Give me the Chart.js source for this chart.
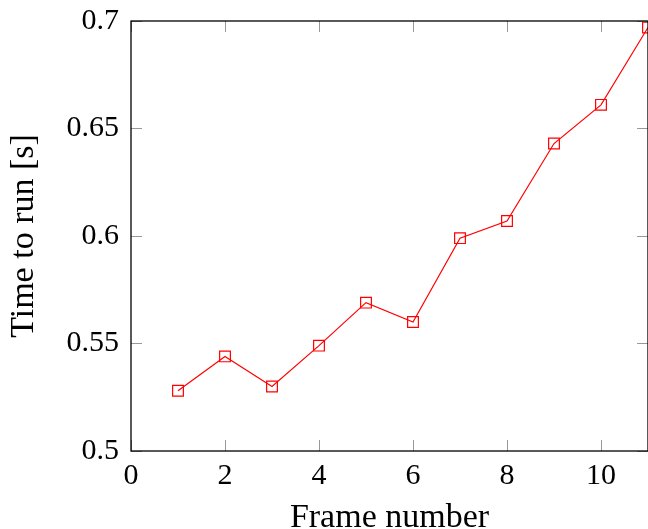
<!DOCTYPE html>
<html>
<head>
<meta charset="utf-8">
<script src="https://cdn.jsdelivr.net/npm/chart.js@4/dist/chart.umd.min.js"></script>
<style>
  html, body { margin: 0; padding: 0; background: #fff; overflow: hidden; }
  #wrap { width: 648px; height: 529px; }
</style>
</head>
<body>
<div id="wrap"><canvas id="chart" width="648" height="529"></canvas></div>
<script>
// Data
const frames = [1, 2, 3, 4, 5, 6, 7, 8, 9, 10, 11];
const runTimes = [0.528, 0.544, 0.530, 0.549, 0.569, 0.560, 0.599, 0.607, 0.643, 0.661, 0.697];
const xTicks = [0, 2, 4, 6, 8, 10];
const yTicks = [0.5, 0.55, 0.6, 0.65, 0.7];

const FONT = "'Liberation Serif', 'Times New Roman', serif";

// drop the extra room chart.js keeps for overflowing tick labels
function noPadding(s) {
    s.paddingTop = 0;
    s.paddingBottom = 0;
    s.paddingLeft = 0;
    s.paddingRight = 0;
}

// pgfplots style frame with inward ticks on all four sides
const framePlugin = {
    id: 'frame',
    afterDatasetsDraw(chart) {
        const ctx = chart.ctx;
        const a = chart.chartArea;
        const xs = chart.scales.x, ys = chart.scales.y;
        const len = 11;
        ctx.save();
        ctx.strokeStyle = '#999';
        ctx.lineWidth = 1;
        ctx.beginPath();
        xTicks.forEach(v => {
            const px = Math.round(xs.getPixelForValue(v)) + 0.5;
            ctx.moveTo(px, a.bottom); ctx.lineTo(px, a.bottom - len);
            ctx.moveTo(px, a.top); ctx.lineTo(px, a.top + len);
        });
        yTicks.forEach(v => {
            const py = Math.round(ys.getPixelForValue(v)) + 0.5;
            ctx.moveTo(a.left, py); ctx.lineTo(a.left + len, py);
            ctx.moveTo(a.right, py); ctx.lineTo(a.right - len, py);
        });
        ctx.stroke();
        ctx.strokeStyle = '#000';
        ctx.lineWidth = 1.3;
        ctx.strokeRect(a.left, a.top, a.right - a.left, a.bottom - a.top);
        ctx.restore();
    }
};

new Chart(document.getElementById('chart'), {
    type: 'line',
    data: {
        datasets: [{
            data: frames.map((f, i) => ({ x: f, y: runTimes[i] })),
            borderColor: '#ff0000',
            borderWidth: 1.2,
            pointStyle: 'rect',
            pointRadius: 7.6,
            pointBorderWidth: 1.2,
            pointBorderColor: '#ff0000',
            pointBackgroundColor: 'rgba(0,0,0,0)',
            tension: 0,
            clip: false
        }]
    },
    options: {
        responsive: false,
        animation: false,
        layout: { autoPadding: false, padding: { top: 21, right: 0, left: 0, bottom: 0 } },
        plugins: { legend: { display: false }, tooltip: { enabled: false } },
        scales: {
            x: {
                type: 'linear',
                min: 0,
                max: 11,
                afterFit(s) { s.height = 78; noPadding(s); },
                afterBuildTicks(s) { s.ticks = xTicks.map(v => ({ value: v })); },
                grid: { display: false, drawTicks: false },
                border: { display: false },
                ticks: {
                    color: '#000',
                    padding: 7,
                    font: { family: FONT, size: 30 },
                    callback: v => String(v)
                },
                title: {
                    display: true,
                    text: 'Frame number',
                    color: '#000',
                    font: { family: FONT, size: 34 },
                    padding: { top: 12, bottom: -9 }
                }
            },
            y: {
                min: 0.5,
                max: 0.7,
                afterFit(s) { s.width = 131; noPadding(s); },
                afterBuildTicks(s) { s.ticks = yTicks.map(v => ({ value: v })); },
                grid: { display: false, drawTicks: false },
                border: { display: false },
                ticks: {
                    color: '#000',
                    padding: 12,
                    font: { family: FONT, size: 30 },
                    callback: v => String(+v.toFixed(2))
                },
                title: {
                    display: true,
                    text: 'Time to run [s]',
                    color: '#000',
                    font: { family: FONT, size: 34 },
                    padding: { top: 4, bottom: 0 }
                }
            }
        }
    },
    plugins: [framePlugin]
});
</script>
</body>
</html>
